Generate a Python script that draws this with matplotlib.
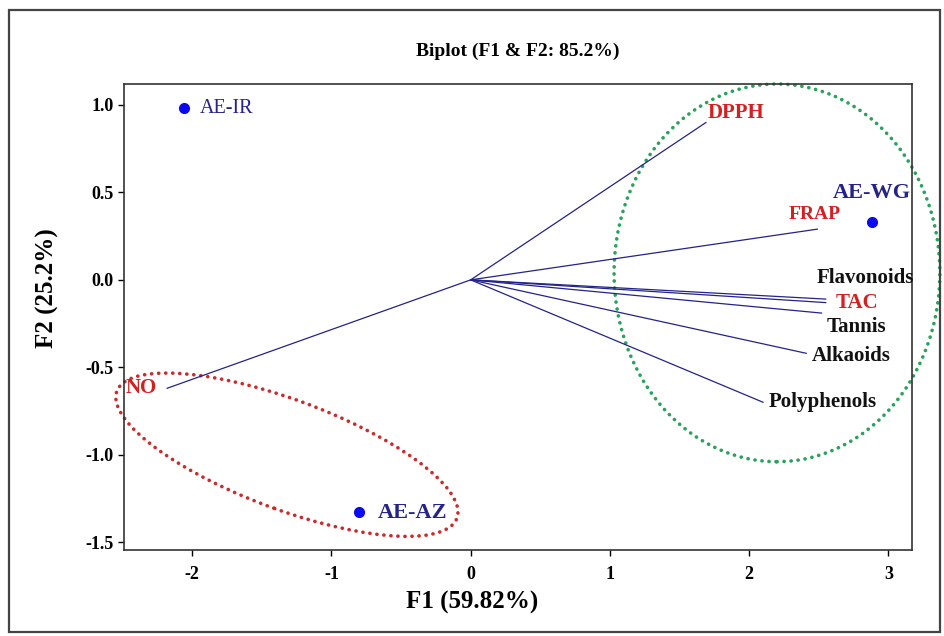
"""PCA biplot (F1 & F2) with sample scores, variable loadings and group ellipses."""
import matplotlib
matplotlib.use("Agg")
import matplotlib.pyplot as plt
from matplotlib.patches import Ellipse, Rectangle

plt.rcParams["font.family"] = ["Liberation Serif", "DejaVu Serif"]
plt.rcParams["axes.unicode_minus"] = False

# sample scores
samples = ["AE-IR", "AE-WG", "AE-AZ"]
sample_f1 = [-2.06, 2.88, -0.80]
sample_f2 = [0.98, 0.33, -1.33]

# variable loadings (arrow tips)
variables = ["DPPH", "FRAP", "Flavonoids", "TAC", "Tannis", "Alkaoids", "Polyphenols", "NO"]
var_f1 = [1.69, 2.49, 2.55, 2.55, 2.52, 2.41, 2.10, -2.18]
var_f2 = [0.90, 0.29, -0.11, -0.13, -0.19, -0.42, -0.70, -0.62]
var_colors = ["#d42020", "#d42020", "#111111", "#d42020", "#111111", "#111111", "#111111", "#d42020"]

x_ticks = [-2, -1, 0, 1, 2, 3]
y_ticks = [-1.5, -1.0, -0.5, 0.0, 0.5, 1.0]

NAVY = "#23238a"
PX = 0.72  # points per pixel at dpi 100

fig = plt.figure(figsize=(9.45, 6.36), dpi=100)
ax = fig.add_axes([0.1312, 0.1352, 0.8339, 0.7327])

# loadings
for x, y in zip(var_f1, var_f2):
    ax.plot([0, x], [0, y], color=NAVY, lw=0.9)

# sample points
ax.plot(sample_f1, sample_f2, "o", color="#0a0af0", ms=7, ls="none")

# label offsets in pixels from the point (dx, dy up), alignment
sample_style = {
    "AE-IR": (16, 0, "left", "normal", 14.5),
    "AE-WG": (39, 29, "right", "bold", 16),
    "AE-AZ": (19, -1, "left", "bold", 16),
}
for name, x, y in zip(samples, sample_f1, sample_f2):
    dx, dy, ha, fw, fs = sample_style[name]
    ax.annotate(name, (x, y), xytext=(dx * PX, dy * PX), textcoords="offset points",
                color=NAVY, fontsize=fs, fontweight=fw, ha=ha, va="center",
                annotation_clip=False)

var_offsets = {
    "DPPH": (2, 9, "left"),
    "FRAP": (23, 15, "right"),
    "Flavonoids": (-9, 21, "left"),
    "TAC": (10, 0, "left"),
    "Tannis": (5, -14, "left"),
    "Alkaoids": (6, -3, "left"),
    "Polyphenols": (6, 0, "left"),
    "NO": (-10, 0, "right"),
}
for name, x, y, c in zip(variables, var_f1, var_f2, var_colors):
    dx, dy, ha = var_offsets[name]
    ax.annotate(name, (x, y), xytext=(dx * PX, dy * PX), textcoords="offset points",
                color=c, fontsize=15 if name != "FRAP" else 14, fontweight="bold",
                ha=ha, va="center", annotation_clip=False)

# group ellipses (round dotted outline)
ax.add_patch(Ellipse((2.20, 0.04), 2.34, 2.16, fill=False, ec="#2aa35a",
                     lw=2.6, ls=(0, (0.05, 1.9)), capstyle="round", clip_on=False))
ax.add_patch(Ellipse((-1.32, -1.00), 2.55, 0.64, angle=-16, fill=False,
                     ec="#cc2b2b", lw=2.6, ls=(0, (0.05, 1.9)), capstyle="round",
                     clip_on=False))

ax.set_xlim(-2.49, 3.17)
ax.set_ylim(-1.545, 1.12)
ax.set_xticks(x_ticks)
ax.set_xticklabels([str(t) for t in x_ticks])
ax.set_yticks(y_ticks)
ax.set_yticklabels([f"{t:.1f}" for t in y_ticks])
ax.tick_params(direction="out", length=4.3, width=1, labelsize=13)
ax.tick_params(axis="x", pad=7)
ax.tick_params(axis="y", pad=3)
for lab in ax.get_xticklabels() + ax.get_yticklabels():
    lab.set_fontweight("bold")
for s in ax.spines.values():
    s.set_color("#333333")
    s.set_linewidth(1.2)

ax.set_xlabel("F1 (59.82%)", fontsize=18, fontweight="bold")
ax.xaxis.set_label_coords(0.4416, -0.088)
ax.set_ylabel("F2 (25.2%)", fontsize=18, fontweight="bold")
ax.yaxis.set_label_coords(-0.083, 0.562)
ax.set_title("Biplot (F1 & F2: 85.2%)", fontsize=14, fontweight="bold", pad=20)

# outer frame around the whole figure
fig.patches.append(Rectangle((0.010, 0.006), 0.985, 0.979, transform=fig.transFigure,
                             fill=False, ec="#444444", lw=1.6))

fig.savefig("out.png", dpi=100)
plt.close(fig)
